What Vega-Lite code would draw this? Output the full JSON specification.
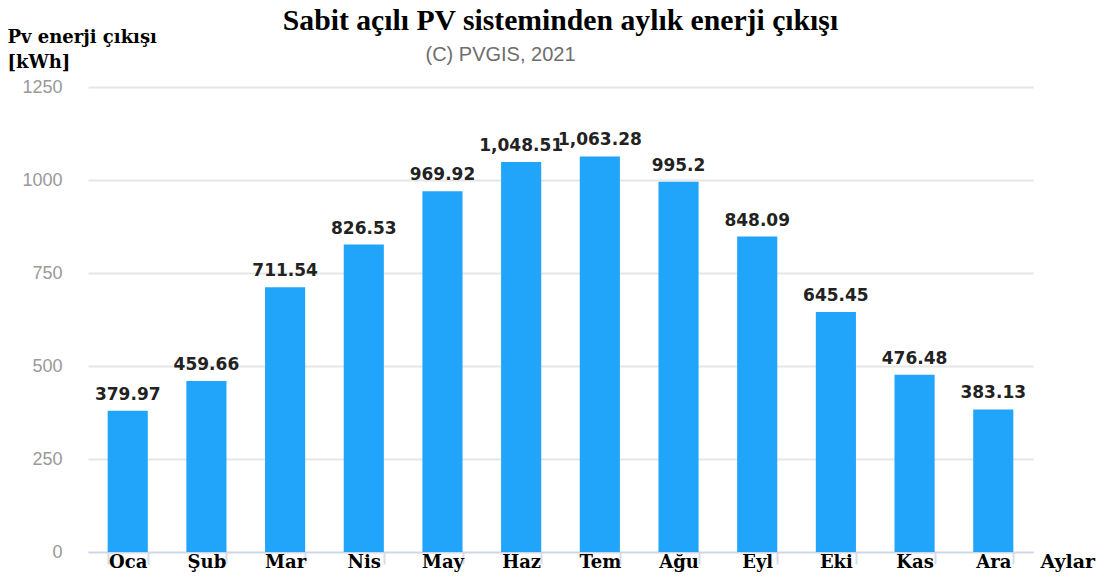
{
  "$schema": "https://vega.github.io/schema/vega-lite/v6.json",
  "width": 945,
  "height": 465,
  "autosize": "none",
  "padding": {"left": 88, "top": 87, "right": 74, "bottom": 25},
  "background": "white",
  "title": {
    "text": "Sabit açılı PV sisteminden aylık enerji çıkışı",
    "subtitle": "(C) PVGIS, 2021\u2800\u2800\u2800\u2800\u2800\u2800\u2800\u2800",
    "anchor": "middle",
    "frame": "group",
    "font": "Liberation Serif",
    "fontSize": 29.7,
    "fontWeight": "bold",
    "color": "#000000",
    "subtitleFont": "Liberation Sans",
    "subtitleFontSize": 20,
    "subtitleColor": "#6e6e6e",
    "subtitlePadding": 8,
    "offset": 10,
    "dy": 48
  },
  "data": {
    "values": [
      {"ay": "Oca", "enerji": 379.97, "etiket": "379.97"},
      {"ay": "Şub", "enerji": 459.66, "etiket": "459.66"},
      {"ay": "Mar", "enerji": 711.54, "etiket": "711.54"},
      {"ay": "Nis", "enerji": 826.53, "etiket": "826.53"},
      {"ay": "May", "enerji": 969.92, "etiket": "969.92"},
      {"ay": "Haz", "enerji": 1048.51, "etiket": "1,048.51"},
      {"ay": "Tem", "enerji": 1063.28, "etiket": "1,063.28"},
      {"ay": "Ağu", "enerji": 995.2, "etiket": "995.2"},
      {"ay": "Eyl", "enerji": 848.09, "etiket": "848.09"},
      {"ay": "Eki", "enerji": 645.45, "etiket": "645.45"},
      {"ay": "Kas", "enerji": 476.48, "etiket": "476.48"},
      {"ay": "Ara", "enerji": 383.13, "etiket": "383.13"}
    ]
  },
  "encoding": {
    "x": {
      "field": "ay",
      "type": "nominal",
      "sort": null,
      "scale": {"paddingInner": 0.49, "paddingOuter": 0.25},
      "axis": {
        "title": "Aylar",
        "titleFont": "DejaVu Serif",
        "titleFontSize": 19,
        "titleFontWeight": "bold",
        "titleColor": "#000000",
        "titleX": 952,
        "titleY": 15,
        "titleAlign": "left",
        "titleBaseline": "alphabetic",
        "labelAngle": 0,
        "labelFont": "DejaVu Serif",
        "labelFontSize": 18,
        "labelFontWeight": "bold",
        "labelColor": "#000000",
        "labelBaseline": "alphabetic",
        "labelPadding": 3,
        "tickBand": "extent",
        "tickSize": 12,
        "tickColor": "#d5dde9",
        "tickWidth": 2,
        "domainColor": "#ccd6eb",
        "domainWidth": 1.5,
        "grid": false
      }
    },
    "y": {
      "field": "enerji",
      "type": "quantitative",
      "scale": {"domain": [0, 1250], "nice": false},
      "axis": {
        "values": [0, 250, 500, 750, 1000, 1250],
        "format": "d",
        "title": ["Pv enerji çıkışı", "[kWh]"],
        "titleAngle": 0,
        "titleAlign": "left",
        "titleBaseline": "alphabetic",
        "titleX": -81,
        "titleY": -45,
        "titleLineHeight": 25,
        "titleFont": "DejaVu Serif",
        "titleFontSize": 18,
        "titleFontWeight": "bold",
        "titleColor": "#000000",
        "labelFont": "Liberation Sans",
        "labelFontSize": 18,
        "labelColor": "#999999",
        "labelPadding": 26,
        "ticks": false,
        "tickSize": 0,
        "domain": false,
        "grid": true,
        "gridColor": "#e6e6e6",
        "gridWidth": 2
      }
    }
  },
  "layer": [
    {"mark": {"type": "bar", "color": "#21a5fb"}},
    {
      "mark": {
        "type": "text",
        "font": "DejaVu Sans",
        "fontSize": 17,
        "fontWeight": "bold",
        "color": "#222222",
        "baseline": "alphabetic",
        "dy": -11
      },
      "encoding": {"text": {"field": "etiket"}}
    }
  ],
  "config": {"view": {"stroke": null}}
}
